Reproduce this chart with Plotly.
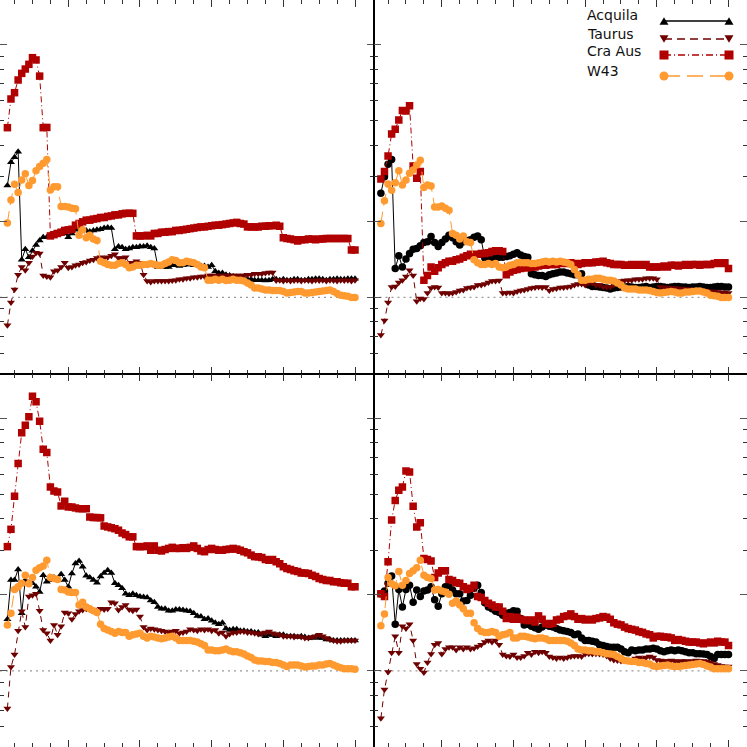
import math
import plotly.graph_objects as go
from plotly.subplots import make_subplots

W = 747
H = 747

# every curve is sampled on the same x grid (first point and step)
X_FIRST = 0.15
X_STEP = 0.05

X_RANGE = [0.047, 5.258]
Y_RANGE = [0.5, 15.0]

X_MAJOR = [1, 2, 3, 4, 5]
X_MINOR = [0.25, 0.5, 0.75, 1.25, 1.5, 1.75, 2.25, 2.5, 2.75, 3.25, 3.5, 3.75, 4.25, 4.5, 4.75]
Y_MAJOR = [1, 2, 10]
Y_MINOR = [0.6, 0.7, 0.8, 0.9, 3, 4, 5, 6, 7, 8, 9]

NAMES = ["Acquila", "Taurus", "Cra Aus", "W43"]
COLORS = ["#000000", "#6e0000", "#b00000", "#ff9a30"]

# ---- top left panel
ACQ_TL = [2.77, 3.42, 3.58, 3.77, 1.41, 1.55, 1.44, 1.53, 1.61, 1.68,
          1.73, 1.73, 1.76, 1.79, 1.80, 1.82, 1.79, 1.73, 1.79, 1.85,
          1.87, 1.86, 1.84, 1.82, 1.84, 1.85, 1.86, 1.88, 1.89, 1.88,
          1.55, 1.59, 1.58, 1.55, 1.56, 1.58, 1.58, 1.59, 1.59, 1.60,
          1.58, 1.56, 1.32, 1.32, 1.32, 1.32, 1.34, 1.34, 1.33, 1.34,
          1.35, 1.35, 1.34, 1.34, 1.33, 1.33, 1.32, 1.34, 1.27, 1.25,
          1.25, 1.23, 1.22, 1.21, 1.20, 1.19, 1.19, 1.18, 1.18, 1.17,
          1.17, 1.17, 1.165, 1.17, 1.18, 1.18, 1.17, 1.18, 1.17, 1.17,
          1.18, 1.18, 1.17, 1.17, 1.18, 1.18, 1.185, 1.185, 1.18, 1.17,
          1.18, 1.18, 1.185, 1.18, 1.18, 1.185, 1.185, 1.185]
TAU_TL = [0.775, 0.955, 1.075, 1.23, 1.32, 1.28, 1.37, 1.45, 1.50, 1.49,
          1.22, 1.21, 1.20, 1.27, 1.28, 1.32, 1.37, 1.31, 1.32, 1.34,
          1.35, 1.37, 1.38, 1.40, 1.41, 1.43, 1.44, 1.43, 1.44, 1.46,
          1.48, 1.43, 1.43, 1.44, 1.37, 1.37, 1.39, 1.37, 1.23, 1.16,
          1.15, 1.16, 1.16, 1.16, 1.16, 1.16, 1.165, 1.17, 1.18, 1.18,
          1.19, 1.19, 1.20, 1.20, 1.21, 1.21, 1.22, 1.22, 1.22, 1.21,
          1.22, 1.22, 1.22, 1.22, 1.22, 1.22, 1.22, 1.23, 1.23, 1.24,
          1.24, 1.24, 1.25, 1.255, 1.255, 1.165, 1.17, 1.16, 1.17, 1.16,
          1.165, 1.17, 1.16, 1.17, 1.165, 1.16, 1.17, 1.165, 1.17, 1.16,
          1.17, 1.165, 1.16, 1.17, 1.165, 1.17, 1.16, 1.17]
CRA_TL = [4.69, 6.09, 6.45, 7.24, 7.69, 8.00, 8.35, 8.87, 8.69, 7.50,
          4.69, 4.70, 1.75, 1.77, 1.79, 1.81, 1.84, 1.85, 1.86, 1.93,
          1.96, 1.99, 2.02, 2.02, 2.04, 2.05, 2.07, 2.07, 2.09, 2.10,
          2.12, 2.12, 2.14, 2.15, 2.15, 2.15, 1.75, 1.75, 1.75, 1.76,
          1.75, 1.79, 1.79, 1.81, 1.81, 1.82, 1.82, 1.84, 1.84, 1.85,
          1.86, 1.87, 1.88, 1.89, 1.90, 1.90, 1.91, 1.92, 1.93, 1.93,
          1.94, 1.95, 1.96, 1.97, 1.98, 1.96, 1.95, 1.90, 1.90, 1.90,
          1.90, 1.91, 1.91, 1.92, 1.92, 1.93, 1.91, 1.72, 1.71, 1.70,
          1.69, 1.67, 1.69, 1.69, 1.70, 1.70, 1.69, 1.70, 1.70, 1.71,
          1.71, 1.71, 1.71, 1.71, 1.71, 1.71, 1.54, 1.54]
W43_TL = [1.97, 2.43, 2.80, 2.60, 2.91, 3.08, 2.77, 2.90, 3.17, 3.29,
          3.39, 3.51, 2.66, 2.74, 2.74, 2.29, 2.29, 2.28, 2.25, 2.24,
          1.76, 1.85, 1.72, 1.76, 1.70, 1.68, 1.39, 1.37, 1.35, 1.34,
          1.34, 1.36, 1.37, 1.35, 1.31, 1.32, 1.34, 1.34, 1.35, 1.35,
          1.36, 1.35, 1.34, 1.34, 1.36, 1.38, 1.41, 1.40, 1.37, 1.37,
          1.39, 1.38, 1.37, 1.35, 1.32, 1.31, 1.17, 1.17, 1.18, 1.17,
          1.18, 1.165, 1.17, 1.18, 1.17, 1.17, 1.16, 1.14, 1.12, 1.09,
          1.09, 1.08, 1.07, 1.07, 1.065, 1.065, 1.065, 1.055, 1.04, 1.045,
          1.05, 1.055, 1.055, 1.04, 1.04, 1.045, 1.05, 1.055, 1.06, 1.065,
          1.07, 1.055, 1.035, 1.02, 1.015, 1.01, 1.0, 1.0]

# ---- top right panel
ACQ_TR = [2.58, 3.00, 3.36, 3.51, 1.30, 1.46, 1.32, 1.42, 1.49, 1.55,
          1.56, 1.60, 1.65, 1.66, 1.74, 1.65, 1.59, 1.65, 1.70, 1.76,
          1.72, 1.66, 1.61, 1.66, 1.68, 1.69, 1.73, 1.75, 1.69, 1.43,
          1.43, 1.42, 1.43, 1.44, 1.44, 1.45, 1.46, 1.48, 1.50, 1.47,
          1.45, 1.44, 1.24, 1.23, 1.22, 1.22, 1.21, 1.23, 1.24, 1.25,
          1.26, 1.26, 1.25, 1.24, 1.23, 1.23, 1.24, 1.16, 1.12, 1.105,
          1.105, 1.10, 1.095, 1.09, 1.08, 1.09, 1.095, 1.10, 1.10, 1.105,
          1.10, 1.095, 1.095, 1.10, 1.105, 1.095, 1.10, 1.105, 1.105, 1.10,
          1.095, 1.10, 1.105, 1.105, 1.10, 1.10, 1.095, 1.10, 1.10, 1.105,
          1.10, 1.095, 1.095, 1.10, 1.105, 1.105, 1.10, 1.10]
TAU_TR = [0.71, 0.81, 0.955, 1.10, 1.105, 1.145, 1.17, 1.21, 1.28, 1.22,
          0.965, 0.99, 0.985, 1.04, 1.09, 1.10, 1.095, 1.04, 1.04, 1.035,
          1.04, 1.05, 1.065, 1.07, 1.09, 1.095, 1.10, 1.12, 1.12, 1.13,
          1.145, 1.16, 1.16, 1.165, 1.04, 1.04, 1.045, 1.04, 1.055, 1.065,
          1.07, 1.08, 1.09, 1.095, 1.10, 1.095, 1.10, 1.065, 1.08, 1.085,
          1.095, 1.095, 1.10, 1.105, 1.12, 1.13, 1.13, 1.12, 1.14, 1.14,
          1.12, 1.12, 1.10, 1.10, 1.10, 1.12, 1.14, 1.16, 1.165, 1.17,
          1.17, 1.18, 1.18, 1.18, 1.19, 1.19, 1.19, 1.18, 1.10, 1.095,
          1.095, 1.09, 1.09, 1.085, 1.085, 1.08, 1.08, 1.07, 1.07, 1.065,
          1.065, 1.06, 1.055, 1.055, 1.05, 1.045, 1.045, 1.04]
CRA_TR = [2.94, 3.15, 3.62, 4.43, 4.62, 5.03, 5.48, 5.46, 5.72, 3.31,
          2.96, 3.15, 1.17, 1.22, 1.32, 1.27, 1.31, 1.35, 1.37, 1.39,
          1.39, 1.41, 1.42, 1.44, 1.46, 1.48, 1.47, 1.48, 1.49, 1.49,
          1.50, 1.52, 1.53, 1.53, 1.52, 1.23, 1.26, 1.28, 1.29, 1.30,
          1.31, 1.31, 1.32, 1.32, 1.33, 1.34, 1.34, 1.35, 1.35, 1.35,
          1.36, 1.37, 1.36, 1.37, 1.36, 1.35, 1.36, 1.37, 1.37, 1.37,
          1.38, 1.38, 1.39, 1.37, 1.36, 1.35, 1.35, 1.35, 1.34, 1.34,
          1.35, 1.34, 1.35, 1.34, 1.35, 1.32, 1.32, 1.32, 1.32, 1.33,
          1.32, 1.34, 1.34, 1.33, 1.34, 1.35, 1.34, 1.35, 1.35, 1.34,
          1.35, 1.35, 1.35, 1.36, 1.37, 1.36, 1.37, 1.30]
W43_TR = [1.96, 2.41, 2.81, 2.65, 2.84, 3.17, 2.78, 2.91, 3.10, 3.19,
          3.34, 3.49, 2.72, 2.78, 2.76, 2.28, 2.28, 2.30, 2.25, 2.21,
          1.79, 1.76, 1.70, 1.75, 1.66, 1.65, 1.41, 1.37, 1.35, 1.35,
          1.36, 1.35, 1.36, 1.32, 1.31, 1.32, 1.34, 1.35, 1.37, 1.37,
          1.37, 1.37, 1.36, 1.36, 1.37, 1.38, 1.39, 1.38, 1.39, 1.38,
          1.39, 1.38, 1.37, 1.35, 1.29, 1.23, 1.17, 1.17, 1.18, 1.18,
          1.19, 1.19, 1.18, 1.17, 1.17, 1.16, 1.14, 1.12, 1.09, 1.08,
          1.08, 1.08, 1.07, 1.07, 1.07, 1.065, 1.055, 1.045, 1.04, 1.045,
          1.05, 1.055, 1.05, 1.04, 1.04, 1.05, 1.05, 1.055, 1.06, 1.06,
          1.05, 1.04, 1.02, 1.015, 1.01, 1.0, 1.0, 1.0]

# ---- bottom left panel
ACQ_BL = [1.60, 2.29, 2.29, 2.52, 1.69, 2.29, 2.23, 2.22, 2.15, 2.05,
          2.39, 2.25, 2.29, 2.34, 2.29, 2.41, 2.29, 2.15, 2.43, 2.66,
          2.72, 2.58, 2.38, 2.34, 2.29, 2.23, 2.36, 2.44, 2.50, 2.44,
          2.22, 2.18, 2.12, 2.02, 1.99, 2.02, 1.99, 1.97, 1.96, 1.95,
          1.90, 1.87, 1.79, 1.76, 1.76, 1.73, 1.73, 1.75, 1.75, 1.74,
          1.73, 1.72, 1.69, 1.65, 1.64, 1.60, 1.61, 1.58, 1.55, 1.53,
          1.55, 1.47, 1.45, 1.46, 1.46, 1.44, 1.44, 1.43, 1.43, 1.42,
          1.42, 1.39, 1.37, 1.39, 1.385, 1.37, 1.39, 1.39, 1.37, 1.37,
          1.37, 1.36, 1.37, 1.36, 1.35, 1.35, 1.36, 1.35, 1.35, 1.33,
          1.33, 1.32, 1.32, 1.32, 1.32, 1.32, 1.32, 1.32]
TAU_BL = [0.71, 1.035, 1.16, 1.44, 1.72, 1.49, 1.97, 1.99, 2.02, 1.73,
          1.45, 1.41, 1.32, 1.52, 1.39, 1.50, 1.70, 1.69, 1.60, 1.68,
          1.72, 1.74, 1.76, 1.75, 1.74, 1.73, 1.76, 1.75, 1.76, 1.87,
          1.85, 1.74, 1.79, 1.82, 1.75, 1.73, 1.75, 1.64, 1.49, 1.45,
          1.47, 1.46, 1.45, 1.44, 1.43, 1.42, 1.43, 1.44, 1.41, 1.42,
          1.43, 1.46, 1.45, 1.44, 1.46, 1.45, 1.46, 1.44, 1.45, 1.41,
          1.42, 1.37, 1.40, 1.42, 1.42, 1.43, 1.43, 1.42, 1.42, 1.41,
          1.40, 1.41, 1.42, 1.43, 1.41, 1.40, 1.39, 1.37, 1.37, 1.37,
          1.36, 1.37, 1.36, 1.35, 1.35, 1.36, 1.37, 1.39, 1.37, 1.35,
          1.33, 1.32, 1.31, 1.31, 1.32, 1.32, 1.32, 1.32]
CRA_BL = [3.10, 3.63, 4.91, 6.61, 8.74, 9.37, 10.11, 12.2, 11.59, 9.72,
          7.53, 7.30, 5.34, 5.15, 5.10, 4.49, 4.69, 4.45, 4.45, 4.41,
          4.38, 4.38, 4.38, 4.06, 4.04, 4.04, 4.03, 3.74, 3.71, 3.68,
          3.65, 3.60, 3.51, 3.46, 3.39, 3.39, 3.10, 3.10, 3.10, 3.12,
          3.00, 3.12, 3.00, 2.98, 3.02, 3.05, 3.08, 3.05, 3.05, 3.07,
          3.05, 3.08, 3.12, 3.05, 2.98, 2.96, 3.02, 3.05, 3.02, 3.00,
          3.00, 3.02, 3.03, 3.05, 3.03, 3.00, 2.96, 2.93, 2.87, 2.83,
          2.83, 2.81, 2.76, 2.74, 2.76, 2.70, 2.65, 2.58, 2.54, 2.52,
          2.49, 2.47, 2.44, 2.44, 2.43, 2.39, 2.36, 2.32, 2.30, 2.28,
          2.28, 2.25, 2.25, 2.23, 2.22, 2.22, 2.15, 2.15]
W43_BL = [1.52, 1.69, 2.10, 2.15, 2.22, 2.39, 2.21, 2.34, 2.50, 2.56,
          2.60, 2.74, 2.34, 2.32, 2.30, 2.10, 2.09, 2.05, 2.04, 2.04,
          1.82, 1.87, 1.79, 1.76, 1.73, 1.70, 1.53, 1.47, 1.45, 1.43,
          1.41, 1.43, 1.42, 1.42, 1.37, 1.39, 1.40, 1.41, 1.37, 1.35,
          1.37, 1.36, 1.35, 1.34, 1.35, 1.36, 1.37, 1.35, 1.32, 1.32,
          1.32, 1.32, 1.31, 1.30, 1.28, 1.26, 1.21, 1.21, 1.20, 1.20,
          1.21, 1.22, 1.20, 1.19, 1.19, 1.18, 1.165, 1.145, 1.13, 1.105,
          1.095, 1.095, 1.09, 1.09, 1.08, 1.08, 1.07, 1.055, 1.04, 1.055,
          1.055, 1.055, 1.045, 1.035, 1.04, 1.045, 1.045, 1.055, 1.055, 1.065,
          1.07, 1.055, 1.04, 1.03, 1.02, 1.02, 1.02, 1.015]

# ---- bottom right panel
ACQ_BR = [2.02, 2.07, 2.22, 2.37, 1.53, 2.10, 1.79, 2.10, 2.18, 1.87,
          2.09, 1.97, 2.07, 2.09, 2.15, 1.91, 1.80, 2.02, 2.15, 2.18,
          2.09, 2.02, 2.02, 1.89, 1.90, 1.99, 2.12, 2.18, 2.04, 1.86,
          1.79, 1.76, 1.72, 1.70, 1.66, 1.69, 1.70, 1.73, 1.72, 1.61,
          1.52, 1.53, 1.50, 1.48, 1.46, 1.49, 1.52, 1.50, 1.49, 1.47,
          1.45, 1.44, 1.43, 1.42, 1.39, 1.40, 1.35, 1.32, 1.32, 1.31,
          1.30, 1.27, 1.26, 1.25, 1.24, 1.24, 1.24, 1.22, 1.19, 1.18,
          1.21, 1.20, 1.21, 1.21, 1.22, 1.22, 1.23, 1.22, 1.20, 1.19,
          1.20, 1.21, 1.20, 1.21, 1.20, 1.19, 1.18, 1.18, 1.17, 1.17,
          1.165, 1.16, 1.14, 1.12, 1.16, 1.16, 1.16, 1.16]
TAU_BR = [0.65, 0.845, 0.99, 1.18, 1.37, 1.18, 1.50, 1.47, 1.53, 1.32,
          1.065, 1.02, 0.985, 1.08, 1.165, 1.27, 1.29, 1.165, 1.22, 1.24,
          1.24, 1.21, 1.24, 1.22, 1.24, 1.22, 1.23, 1.25, 1.27, 1.30,
          1.32, 1.30, 1.32, 1.27, 1.16, 1.145, 1.14, 1.16, 1.13, 1.13,
          1.145, 1.18, 1.16, 1.19, 1.18, 1.19, 1.18, 1.14, 1.13, 1.12,
          1.13, 1.12, 1.13, 1.14, 1.145, 1.145, 1.14, 1.165, 1.17, 1.165,
          1.17, 1.165, 1.16, 1.145, 1.12, 1.105, 1.10, 1.095, 1.10, 1.10,
          1.105, 1.12, 1.13, 1.12, 1.13, 1.14, 1.13, 1.105, 1.10, 1.095,
          1.095, 1.10, 1.095, 1.09, 1.095, 1.095, 1.09, 1.095, 1.10, 1.095,
          1.095, 1.09, 1.08, 1.065, 1.055, 1.045, 1.04, 1.04]
CRA_BR = [2.02, 1.97, 2.70, 3.95, 4.72, 5.18, 5.34, 6.17, 6.12, 4.48,
          3.71, 3.85, 2.78, 2.76, 2.72, 2.34, 2.44, 2.49, 2.49, 2.30,
          2.28, 2.23, 2.22, 2.15, 2.10, 2.12, 2.18, 1.97, 1.95, 1.90,
          1.85, 1.82, 1.79, 1.79, 1.72, 1.61, 1.64, 1.60, 1.63, 1.60,
          1.59, 1.58, 1.59, 1.56, 1.65, 1.60, 1.54, 1.53, 1.54, 1.59,
          1.60, 1.64, 1.65, 1.68, 1.64, 1.60, 1.61, 1.59, 1.60, 1.59,
          1.61, 1.62, 1.64, 1.63, 1.60, 1.55, 1.53, 1.52, 1.49, 1.47,
          1.46, 1.45, 1.43, 1.42, 1.40, 1.39, 1.35, 1.37, 1.37, 1.36,
          1.36, 1.35, 1.32, 1.33, 1.32, 1.31, 1.30, 1.30, 1.30, 1.29,
          1.28, 1.29, 1.30, 1.29, 1.31, 1.30, 1.30, 1.26]
W43_BR = [1.51, 1.68, 2.34, 2.21, 2.17, 2.47, 2.18, 2.28, 2.43, 2.49,
          2.56, 2.74, 2.39, 2.34, 2.32, 2.09, 2.10, 2.07, 2.05, 2.01,
          1.85, 1.89, 1.82, 1.76, 1.69, 1.69, 1.55, 1.47, 1.43, 1.42,
          1.42, 1.43, 1.42, 1.37, 1.39, 1.40, 1.42, 1.35, 1.35, 1.37,
          1.37, 1.36, 1.35, 1.34, 1.35, 1.35, 1.34, 1.32, 1.32, 1.32,
          1.32, 1.32, 1.31, 1.29, 1.26, 1.22, 1.21, 1.21, 1.20, 1.20,
          1.19, 1.19, 1.18, 1.17, 1.165, 1.16, 1.14, 1.12, 1.10, 1.095,
          1.09, 1.09, 1.08, 1.08, 1.07, 1.065, 1.045, 1.04, 1.045, 1.05,
          1.055, 1.045, 1.04, 1.04, 1.045, 1.05, 1.055, 1.06, 1.065, 1.07,
          1.06, 1.045, 1.035, 1.02, 1.02, 1.02, 1.02, 1.02]

# x where the dotted y=1 guide stops
GUIDE_END = 5.04


def paper(x, y):
    return x / W, 1 - y / H


def legend_marker(kind, cx, cy, s, color):
    if kind in ("square", "circle"):
        x0, y0 = paper(cx - s / 2, cy + s / 2)
        x1, y1 = paper(cx + s / 2, cy - s / 2)
        return dict(type="rect" if kind == "square" else "circle", xref="paper", yref="paper",
                    x0=x0, y0=y0, x1=x1, y1=y1, fillcolor=color, line=dict(width=0))
    h = s * 0.85
    if kind == "up":
        pts = [(cx, cy - h / 2), (cx - s / 2, cy + h / 2), (cx + s / 2, cy + h / 2)]
    else:
        pts = [(cx, cy + h / 2), (cx - s / 2, cy - h / 2), (cx + s / 2, cy - h / 2)]
    path = "M " + " L ".join("%.5f,%.5f" % paper(a, b) for a, b in pts) + " Z"
    return dict(type="path", xref="paper", yref="paper", path=path,
                fillcolor=color, line=dict(width=0))


fig = make_subplots(rows=2, cols=2, horizontal_spacing=0, vertical_spacing=0)

dashes = ["solid", "6px,5px", "6px,3px,1px,3px", "12px,6px"]
panels = [
    (1, 1, "triangle-up", [ACQ_TL, TAU_TL, CRA_TL, W43_TL]),
    (1, 2, "circle", [ACQ_TR, TAU_TR, CRA_TR, W43_TR]),
    (2, 1, "triangle-up", [ACQ_BL, TAU_BL, CRA_BL, W43_BL]),
    (2, 2, "circle", [ACQ_BR, TAU_BR, CRA_BR, W43_BR]),
]

for row, col, first_symbol, series in panels:
    symbols = [first_symbol, "triangle-down", "square", "circle"]
    for k, vals in enumerate(series):
        size = 7 if symbols[k].startswith("triangle") else 7.5
        fig.add_trace(go.Scatter(
            name=NAMES[k], y=vals, x0=X_FIRST, dx=X_STEP, mode="lines+markers",
            line=dict(color=COLORS[k], width=1, dash=dashes[k]),
            marker=dict(symbol=symbols[k], size=size, color=COLORS[k], line=dict(width=0)),
            showlegend=False), row=row, col=col)

# dotted y = 1 guide in each panel
for i in range(1, 5):
    sfx = "" if i == 1 else str(i)
    fig.add_shape(type="line", xref="x" + sfx, yref="y" + sfx, x0=X_RANGE[0], x1=GUIDE_END,
                  y0=1, y1=1, layer="below", line=dict(color="#9a9a9a", width=1.2, dash="2px,4px"))

fig.update_xaxes(range=X_RANGE, showline=True, linecolor="black", linewidth=1, mirror="ticks",
                 ticks="inside", ticklen=7, tickwidth=1, tickcolor="#333", tickmode="array",
                 tickvals=X_MAJOR, showticklabels=False, showgrid=False, zeroline=False,
                 minor=dict(ticks="inside", ticklen=4, tickwidth=1, tickcolor="#333",
                            tickmode="array", tickvals=X_MINOR, showgrid=False))
fig.update_yaxes(type="log", range=[math.log10(Y_RANGE[0]), math.log10(Y_RANGE[1])],
                 showline=True, linecolor="black", linewidth=1, mirror="ticks",
                 ticks="inside", ticklen=7, tickwidth=1, tickcolor="#555", tickmode="array",
                 tickvals=Y_MAJOR, showticklabels=False, showgrid=False, zeroline=False,
                 minor=dict(ticks="inside", ticklen=4, tickwidth=1, tickcolor="#333",
                            tickmode="array", tickvals=Y_MINOR, showgrid=False))

# hand-drawn legend in the top right panel (labels left, samples right)
leg_text_y = [15, 34, 51, 71]
leg_line_y = [21, 39, 55, 76]
leg_kinds = ["up", "down", "square", "circle"]
leg_x0, leg_x1 = 664, 729
for k in range(4):
    fig.add_annotation(xref="paper", yref="paper", x=585 / W, y=1 - leg_text_y[k] / H,
                       text=NAMES[k], showarrow=False, xanchor="left", yanchor="middle",
                       font=dict(family="DejaVu Sans", size=14, color="#111"))
    xa, ya = paper(leg_x0, leg_line_y[k])
    xb, yb = paper(leg_x1, leg_line_y[k])
    ldash = ["solid", "8px,5px", "7px,3px,1px,3px", "16px,7px"][k]
    fig.add_shape(type="line", xref="paper", yref="paper", x0=xa, y0=ya, x1=xb, y1=yb,
                  line=dict(color=COLORS[k], width=1.3, dash=ldash))
    for cx in (leg_x0, leg_x1):
        fig.add_shape(legend_marker(leg_kinds[k], cx, leg_line_y[k], 9, COLORS[k]))

fig.update_layout(width=W, height=H, margin=dict(l=0, r=0, t=0, b=0),
                  paper_bgcolor="white", plot_bgcolor="white", showlegend=False)

# the page body has a default 8px margin; drop it so the figure fills the window
fig.write_html("out.html", config={"displayModeBar": False},
               post_script="document.body.style.margin='0';")
